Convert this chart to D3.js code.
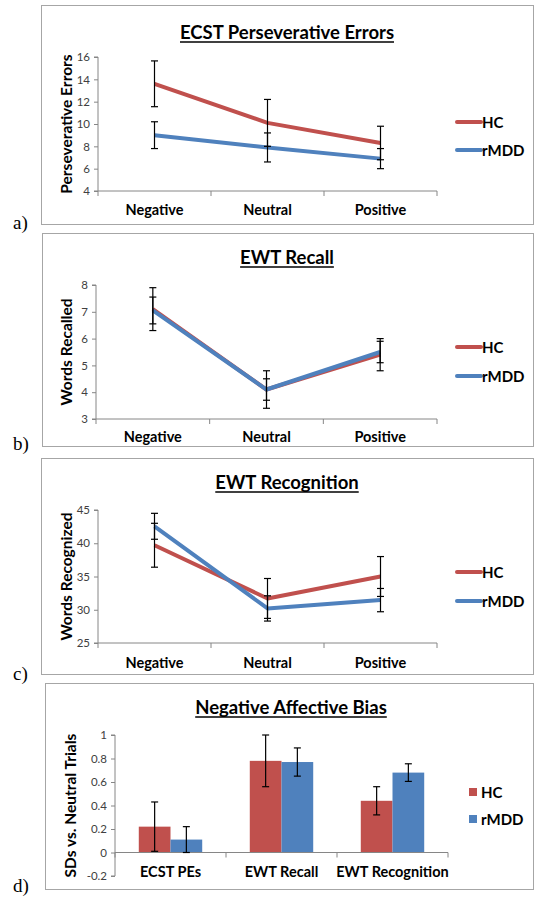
<!DOCTYPE html>
<html><head><meta charset="utf-8">
<script src="https://cdn.jsdelivr.net/npm/d3@7"></script>
<style>body{margin:0;background:#fff}</style>
</head><body>
<svg id="c" width="536" height="900"></svg>
<script>
// ---------- data ----------
const conditions = ["Negative", "Neutral", "Positive"];
const groups = ["HC", "rMDD"];

const ecstTitle = "ECST Perseverative Errors";
const ecstHC = [13.6, 10.1, 8.3];
const ecstHCerr = [2.05, 2.1, 1.5];
const ecstMDD = [9.0, 7.9, 6.9];
const ecstMDDerr = [1.2, 1.3, 0.9];
const ecstTicks = [4, 6, 8, 10, 12, 14, 16];

const recallTitle = "EWT Recall";
const recallHC = [7.1, 4.1, 5.4];
const recallHCerr = [0.8, 0.7, 0.6];
const recallMDD = [7.05, 4.1, 5.5];
const recallMDDerr = [0.5, 0.4, 0.4];
const recallTicks = [3, 4, 5, 6, 7, 8];

const recogTitle = "EWT Recognition";
const recogHC = [39.7, 31.7, 35.0];
const recogHCerr = [3.3, 3.0, 3.0];
const recogMDD = [42.55, 30.2, 31.45];
const recogMDDerr = [1.95, 1.9, 1.75];
const recogTicks = [25, 30, 35, 40, 45];

const biasTitle = "Negative Affective Bias";
const biasCats = ["ECST PEs", "EWT Recall", "EWT Recognition"];
const biasHC = [0.22, 0.78, 0.44];
const biasHCerr = [0.21, 0.22, 0.12];
const biasMDD = [0.11, 0.77, 0.68];
const biasMDDerr = [0.11, 0.12, 0.075];
const biasTicks = [-0.2, 0, 0.2, 0.4, 0.6, 0.8, 1];

// ---------- style ----------
const RED = "#C0504D", BLUE = "#4F81BD";
const colors = {HC: RED, rMDD: BLUE};
const FONT = "Lato, 'Open Sans', sans-serif";
const AXIS = "#868686";
const svg = d3.select("#c");

function frame(box, letter, letterY) {
  svg.append("rect").attr("x", box.x + 0.5).attr("y", box.y + 0.5)
    .attr("width", box.w).attr("height", box.h)
    .attr("fill", "#fff").attr("stroke", "#a6a6a6").attr("stroke-width", 1);
  svg.append("text").attr("x", 13).attr("y", letterY)
    .attr("font-family", "'Liberation Serif', 'Times New Roman', serif")
    .attr("font-size", 19).attr("fill", "#000").text(letter);
}

function title(txt, cx, y) {
  const t = svg.append("text").attr("x", cx).attr("y", y).attr("text-anchor", "middle")
    .attr("font-family", FONT).attr("font-weight", "bold").attr("font-size", 18.5)
    .attr("fill", "#000").text(txt);
  const w = t.node().getComputedTextLength();
  svg.append("line").attr("x1", cx - w / 2).attr("x2", cx + w / 2)
    .attr("y1", y + 3).attr("y2", y + 3).attr("stroke", "#000").attr("stroke-width", 1.3);
}

function yAxis(y, x, ticks, label, labelX) {
  const g = svg.append("g").attr("transform", `translate(${x},0)`)
    .call(d3.axisLeft(y).tickValues(ticks).tickSize(4).tickPadding(4).tickFormat(d => String(d)));
  g.select(".domain").attr("stroke", AXIS).attr("d", `M-4,${y.range()[0]}H0V${y.range()[1]}H-4`);
  g.selectAll(".tick line").attr("stroke", AXIS);
  g.selectAll(".tick text").attr("font-family", FONT).attr("font-size", 11.5).attr("fill", "#404040");
  const cy = (y.range()[0] + y.range()[1]) / 2;
  svg.append("text").attr("transform", `translate(${labelX},${cy}) rotate(-90)`)
    .attr("text-anchor", "middle").attr("dominant-baseline", "central")
    .attr("font-family", FONT).attr("font-weight", "bold").attr("font-size", 15.5)
    .attr("fill", "#000").text(label);
}

function xAxis(xb, yPos, cats, labelY, fs) {
  const r = xb.range();
  const g = svg.append("g");
  g.append("line").attr("x1", r[0]).attr("x2", r[1]).attr("y1", yPos).attr("y2", yPos)
    .attr("stroke", AXIS);
  const bounds = cats.map(c => xb(c)).concat([r[1]]);
  bounds.forEach(b => g.append("line").attr("x1", b).attr("x2", b)
    .attr("y1", yPos).attr("y2", yPos + 5).attr("stroke", AXIS));
  cats.forEach(c => g.append("text").attr("x", xb(c) + xb.bandwidth() / 2).attr("y", labelY)
    .attr("text-anchor", "middle").attr("font-family", FONT).attr("font-weight", "bold")
    .attr("font-size", fs).attr("fill", "#000").text(c));
}

function errBar(x, y, v, e, cap) {
  const g = svg.append("g").attr("stroke", "#000").attr("stroke-width", 1.2);
  g.append("line").attr("x1", x).attr("x2", x).attr("y1", y(v - e)).attr("y2", y(v + e));
  [v - e, v + e].forEach(t => g.append("line").attr("x1", x - cap).attr("x2", x + cap)
    .attr("y1", y(t)).attr("y2", y(t)));
}

function linePanel(L) {
  frame(L.box, L.letter, L.letterY);
  title(L.title, L.titleX, L.titleY);
  const x = d3.scaleBand().domain(conditions).range([L.left, L.right]).padding(0);
  const y = d3.scaleLinear().domain(d3.extent(L.ticks)).range([L.bottom, L.top]);
  yAxis(y, L.left, L.ticks, L.ylabel, L.ylabelX);
  xAxis(x, L.bottom, conditions, L.catY, 14.5);
  const cx = c => x(c) + x.bandwidth() / 2;
  const series = [
    {g: "HC", v: L.hc, e: L.hcErr},
    {g: "rMDD", v: L.mdd, e: L.mddErr}
  ];
  const line = d3.line().x((d, i) => cx(conditions[i])).y(d => y(d));
  series.forEach(s => {
    svg.append("path").datum(s.v).attr("d", line).attr("fill", "none")
      .attr("stroke", colors[s.g]).attr("stroke-width", 4).attr("stroke-linejoin", "round");
  });
  series.forEach(s => s.v.forEach((v, i) => errBar(cx(conditions[i]), y, v, s.e[i], 3.5)));
  // legend
  groups.forEach((gname, i) => {
    const ly = L.legY[i];
    svg.append("line").attr("x1", L.legX).attr("x2", L.legX + 24).attr("y1", ly).attr("y2", ly)
      .attr("stroke", colors[gname]).attr("stroke-width", 4).attr("stroke-linecap", "round");
    svg.append("text").attr("x", L.legX + 25).attr("y", ly).attr("dominant-baseline", "central")
      .attr("font-family", FONT).attr("font-weight", "bold").attr("font-size", 15)
      .attr("fill", "#000").text(gname);
  });
}

linePanel({
  box: {x: 41, y: 5, w: 492, h: 219}, letter: "a)", letterY: 229,
  title: ecstTitle, titleX: 287, titleY: 39,
  left: 98, right: 437, top: 57, bottom: 191, ticks: ecstTicks,
  ylabel: "Perseverative Errors", ylabelX: 66, catY: 215,
  hc: ecstHC, hcErr: ecstHCerr, mdd: ecstMDD, mddErr: ecstMDDerr,
  legX: 457, legY: [122, 150]
});
linePanel({
  box: {x: 42, y: 233, w: 491, h: 213}, letter: "b)", letterY: 450,
  title: recallTitle, titleX: 287, titleY: 264,
  left: 96, right: 437, top: 285, bottom: 419, ticks: recallTicks,
  ylabel: "Words Recalled", ylabelX: 66, catY: 442,
  hc: recallHC, hcErr: recallHCerr, mdd: recallMDD, mddErr: recallMDDerr,
  legX: 457, legY: [347, 376]
});
linePanel({
  box: {x: 41, y: 458, w: 492, h: 216}, letter: "c)", letterY: 680,
  title: recogTitle, titleX: 287, titleY: 489,
  left: 98, right: 437, top: 510, bottom: 643, ticks: recogTicks,
  ylabel: "Words Recognized", ylabelX: 66, catY: 668,
  hc: recogHC, hcErr: recogHCerr, mdd: recogMDD, mddErr: recogMDDerr,
  legX: 457, legY: [572, 601]
});

// ---------- bar panel ----------
(function () {
  const box = {x: 45, y: 683, w: 488, h: 206};
  frame(box, "d)", 892);
  title(biasTitle, 291, 714);
  const left = 115, right = 448, top = 735, bottom = 876;
  const x = d3.scaleBand().domain(biasCats).range([left, right]).padding(0);
  const y = d3.scaleLinear().domain(d3.extent(biasTicks)).range([bottom, top]);
  const xg = d3.scaleBand().domain(groups).range([0, x.bandwidth()]).paddingInner(0).paddingOuter(0.75);
  yAxis(y, left, biasTicks, "SDs vs. Neutral Trials", 70);
  const vals = {HC: biasHC, rMDD: biasMDD}, errs = {HC: biasHCerr, rMDD: biasMDDerr};
  groups.forEach(gname => {
    biasCats.forEach((c, i) => {
      const v = vals[gname][i];
      svg.append("rect").attr("x", x(c) + xg(gname)).attr("width", xg.bandwidth())
        .attr("y", y(Math.max(0, v))).attr("height", Math.abs(y(v) - y(0)))
        .attr("fill", colors[gname]);
    });
  });
  xAxis(x, y(0), biasCats, 877, 14.5);
  groups.forEach(gname => biasCats.forEach((c, i) =>
    errBar(x(c) + xg(gname) + xg.bandwidth() / 2, y, vals[gname][i], errs[gname][i], 3.5)));
  groups.forEach((gname, i) => {
    const ly = [792, 819][i];
    svg.append("rect").attr("x", 469).attr("y", ly - 4).attr("width", 8).attr("height", 8)
      .attr("fill", colors[gname]);
    svg.append("text").attr("x", 481).attr("y", ly).attr("dominant-baseline", "central")
      .attr("font-family", FONT).attr("font-weight", "bold").attr("font-size", 15)
      .attr("fill", "#000").text(gname);
  });
})();
</script>
</body></html>
